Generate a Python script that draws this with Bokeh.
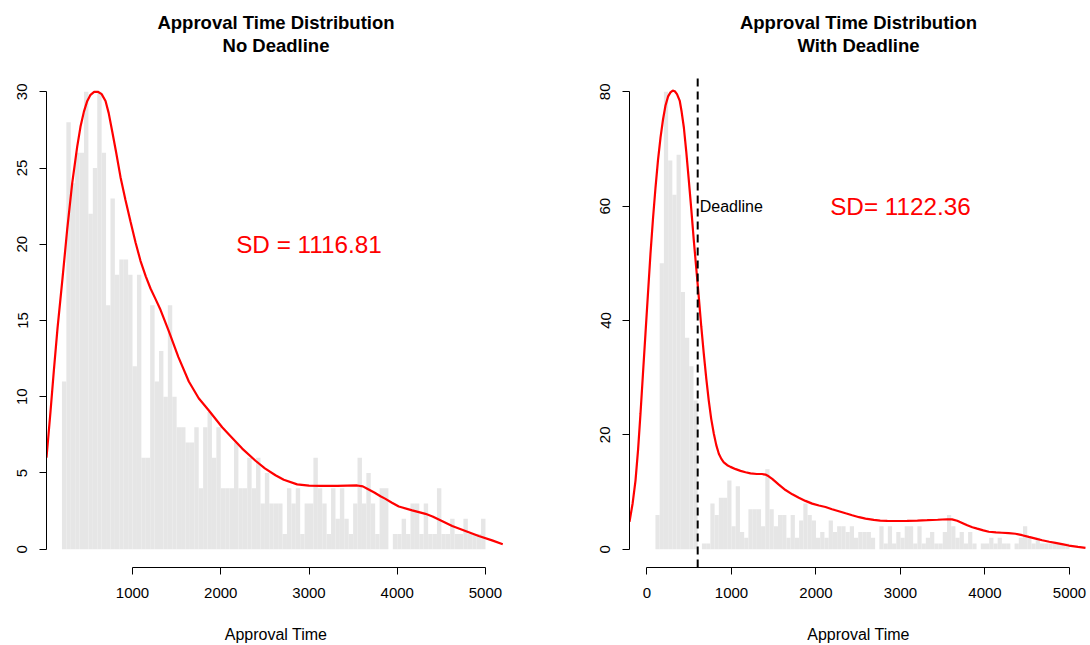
from bokeh.plotting import figure
from bokeh.layouts import row
from bokeh.models import Range1d, FixedTicker, Label
from bokeh.embed import file_html
from bokeh.resources import INLINE

FONT = "Liberation Sans"

# ---------------- data ----------------
bin_width = 50
left_edges = list(range(200, 5000, 50))
left_counts = [11, 28, 24, 26, 26, 30, 22, 25, 30, 26,
               16, 23, 18, 19, 19, 18, 12, 18, 6, 6,
               16, 11, 13, 10, 16, 10, 8, 8, 7, 7,
               8, 4, 8, 9, 6, 8, 4, 4, 4, 7,
               4, 4, 6, 4, 6, 3, 5, 3, 3, 3,
               1, 4, 3, 4, 1, 3, 3, 6, 4, 3,
               1, 4, 2, 4, 2, 1, 3, 6, 3, 5,
               3, 1, 4, 4, 0, 1, 1, 2, 1, 3,
               3, 1, 3, 1, 1, 4, 1, 1, 2, 1,
               1, 2, 1, 1, 1, 2]

right_edges = list(range(100, 5000, 50))
right_counts = [6, 50, 80, 68, 62, 69, 45, 37, 32, 26,
                0, 1, 1, 8, 6, 9, 9, 12, 4, 11,
                3, 2, 7, 7, 7, 4, 14, 7, 4, 6,
                6, 2, 6, 2, 5, 8, 6, 5, 2, 3,
                2, 5, 3, 4, 4, 3, 4, 2, 3, 3,
                3, 2, 0, 4, 1, 4, 1, 3, 2, 4,
                4, 1, 4, 1, 2, 3, 1, 1, 3, 6,
                4, 2, 3, 1, 3, 1, 0, 1, 1, 2,
                1, 2, 1, 1, 0, 1, 2, 4, 2, 1,
                2, 1, 1, 1, 1, 1, 1, 1]

left_curve_x = [25, 70, 108, 150, 207, 260, 316, 373, 410, 449, 487, 524, 565,
                607, 650, 694, 730, 770, 815, 864, 920, 977, 1035, 1091, 1150,
                1204, 1261, 1317, 1411, 1520, 1638, 1750, 1865, 2016, 2130, 2243,
                2394, 2500, 2620, 2714, 2866, 3000, 3130, 3319, 3546, 3610, 3660,
                3740, 3810, 3867, 3940, 4018, 4170, 4320, 4400, 4471, 4623, 4773,
                4924, 5075, 5196]
left_curve_y = [6.0, 9.0, 11.7, 14.5, 17.8, 21.0, 24.0, 26.4, 27.7, 28.7, 29.4,
                29.8, 30.0, 30.0, 29.85, 29.4, 28.6, 27.4, 26.0, 24.4, 22.9, 21.5,
                20.1, 18.9, 17.9, 17.1, 16.4, 15.7, 14.3, 12.6, 11.0, 9.9, 9.1,
                8.0, 7.3, 6.6, 5.8, 5.3, 4.85, 4.55, 4.25, 4.17, 4.15, 4.15, 4.18,
                4.12, 3.97, 3.72, 3.47, 3.3, 3.05, 2.8, 2.55, 2.32, 2.15, 1.95,
                1.52, 1.2, 0.87, 0.58, 0.33]

right_curve_x = [-207, -170, -136, -105, -77, -48, -18, 12, 41, 71, 101, 130, 160,
                 190, 219, 250, 278, 305, 329, 355, 388, 410, 436, 465, 495, 525,
                 554, 584, 613, 642, 672, 702, 731, 760, 791, 820, 850, 880, 909,
                 950, 988, 1050, 1107, 1166, 1225, 1300, 1360, 1402, 1440, 1482,
                 1560, 1639, 1720, 1797, 1875, 1955, 2035, 2112, 2190, 2270, 2350,
                 2428, 2510, 2586, 2684, 2760, 2843, 2960, 3079, 3200, 3316, 3440,
                 3553, 3610, 3671, 3730, 3790, 3850, 3908, 3980, 4045, 4130, 4200,
                 4280, 4361, 4440, 4518, 4600, 4677, 4760, 4834, 4910, 4992, 5100,
                 5189]
right_curve_y = [4.8, 8.0, 12.0, 17.5, 23.7, 30.6, 37.7, 44.8, 51.6, 57.8, 63.3,
                 68.0, 72.0, 75.2, 77.6, 79.2, 79.9, 80.2, 80.1, 79.6, 78.4, 76.5,
                 73.8, 69.5, 64.5, 59.3, 54.0, 49.0, 44.1, 39.0, 34.2, 29.8, 26.0,
                 22.8, 20.2, 18.2, 16.7, 15.8, 15.2, 14.7, 14.4, 14.0, 13.7, 13.45,
                 13.25, 13.15, 13.15, 13.05, 12.75, 12.3, 11.3, 10.35, 9.6, 9.0, 8.45,
                 7.97, 7.65, 7.39, 7.0, 6.64, 6.28, 5.94, 5.6, 5.36, 5.12, 5.0, 4.95,
                 4.93, 4.95, 5.0, 5.07, 5.15, 5.24, 5.22, 4.98, 4.6, 4.19, 3.85, 3.6,
                 3.3, 3.05, 2.95, 2.88, 2.8, 2.7, 2.45, 2.15, 1.85, 1.57, 1.3, 1.1,
                 0.88, 0.64, 0.4, 0.23]

deadline = 600
main_title = "Approval Time Distribution"
left_subtitle = "No Deadline"
right_subtitle = "With Deadline"
left_sd_text = "SD = 1116.81"
right_sd_text = "SD= 1122.36"
left_xticks = [1000, 2000, 3000, 4000, 5000]
right_xticks = [0, 1000, 2000, 3000, 4000, 5000]
left_yticks = [0, 5, 10, 15, 20, 25, 30]
right_yticks = [0, 20, 40, 60, 80]

FIG_H = 645
BORDER_BOTTOM = 78
PLOT_TOP_PX = 73          # top of the R plot region (pixels from top)


def make_panel(edges, counts, cx, cy, xr, yr, xticks, yticks, subtitle,
               sd_text, sd_y, border_left, border_right):
    # the frame is extended up to the canvas top so titles can live inside it
    frame_h = FIG_H - BORDER_BOTTOM
    region_h = frame_h - PLOT_TOP_PX
    y_top = yr[0] + (yr[1] - yr[0]) * frame_h / region_h
    p = figure(width=545, height=FIG_H, output_backend="svg", toolbar_location=None,
               x_range=Range1d(*xr), y_range=Range1d(yr[0], y_top),
               min_border_left=border_left, min_border_right=border_right,
               min_border_top=0, min_border_bottom=BORDER_BOTTOM)
    p.title = None
    p.outline_line_color = None
    p.grid.visible = False
    p.background_fill_color = "white"
    p.border_fill_color = "white"

    p.quad(left=edges, right=[e + bin_width for e in edges], top=counts, bottom=0,
           fill_color="#E6E6E6", line_color=None)
    p.line(cx, cy, line_color="#FF0000", line_width=2.2)

    for ax, ticks in ((p.xaxis[0], xticks), (p.yaxis[0], yticks)):
        ax.ticker = FixedTicker(ticks=ticks)
        ax.bounds = (ticks[0], ticks[-1])
        ax.axis_line_color = "black"
        ax.major_tick_line_color = "black"
        ax.minor_tick_line_color = None
        ax.major_tick_out = 7
        ax.major_tick_in = 0
        ax.major_label_text_font = FONT
        ax.major_label_text_font_size = "15px"
        ax.major_label_text_color = "black"
    p.xaxis[0].major_label_standoff = 13
    p.yaxis[0].major_label_standoff = 12
    p.yaxis[0].major_label_orientation = "vertical"
    p.xaxis[0].axis_label = "Approval Time"
    p.xaxis[0].axis_label_text_font = FONT
    p.xaxis[0].axis_label_text_font_size = "16px"
    p.xaxis[0].axis_label_text_font_style = "normal"
    p.xaxis[0].axis_label_text_color = "black"
    p.xaxis[0].axis_label_standoff = 25

    xc = (xr[0] + xr[1]) / 2.0
    for txt, off in ((main_title, 51), (subtitle, 28)):
        p.add_layout(Label(x=xc, y=yr[1], y_offset=off, text=txt,
                           text_align="center", text_baseline="middle",
                           text_font=FONT, text_font_size="18.5px",
                           text_font_style="bold", text_color="black"))

    p.add_layout(Label(x=3000, y=sd_y, text=sd_text, text_align="center",
                       text_baseline="middle", text_color="#FF0000",
                       text_font=FONT, text_font_size="24.3px"))
    return p


left_yr = (-1.2, 31.2)
right_yr = (-3.2, 83.2)
p1 = make_panel(left_edges, left_counts, left_curve_x, left_curve_y,
                (25, 5227), left_yr, left_xticks, left_yticks,
                left_subtitle, left_sd_text, 20, 46, 40)
p2 = make_panel(right_edges, right_counts, right_curve_x, right_curve_y,
                (-207, 5213), right_yr, right_xticks, right_yticks,
                right_subtitle, right_sd_text, 60, 84, 3)
p2.segment(x0=[deadline], y0=[right_yr[0]], x1=[deadline], y1=[right_yr[1]],
           line_color="black", line_width=2, line_dash="8 5")
p2.add_layout(Label(x=deadline, y=60, x_offset=2, text="Deadline",
                    text_align="left", text_baseline="middle", text_color="black",
                    text_font=FONT, text_font_size="16px"))

layout = row(p1, p2)
open("out.html", "w").write(file_html(layout, INLINE))
